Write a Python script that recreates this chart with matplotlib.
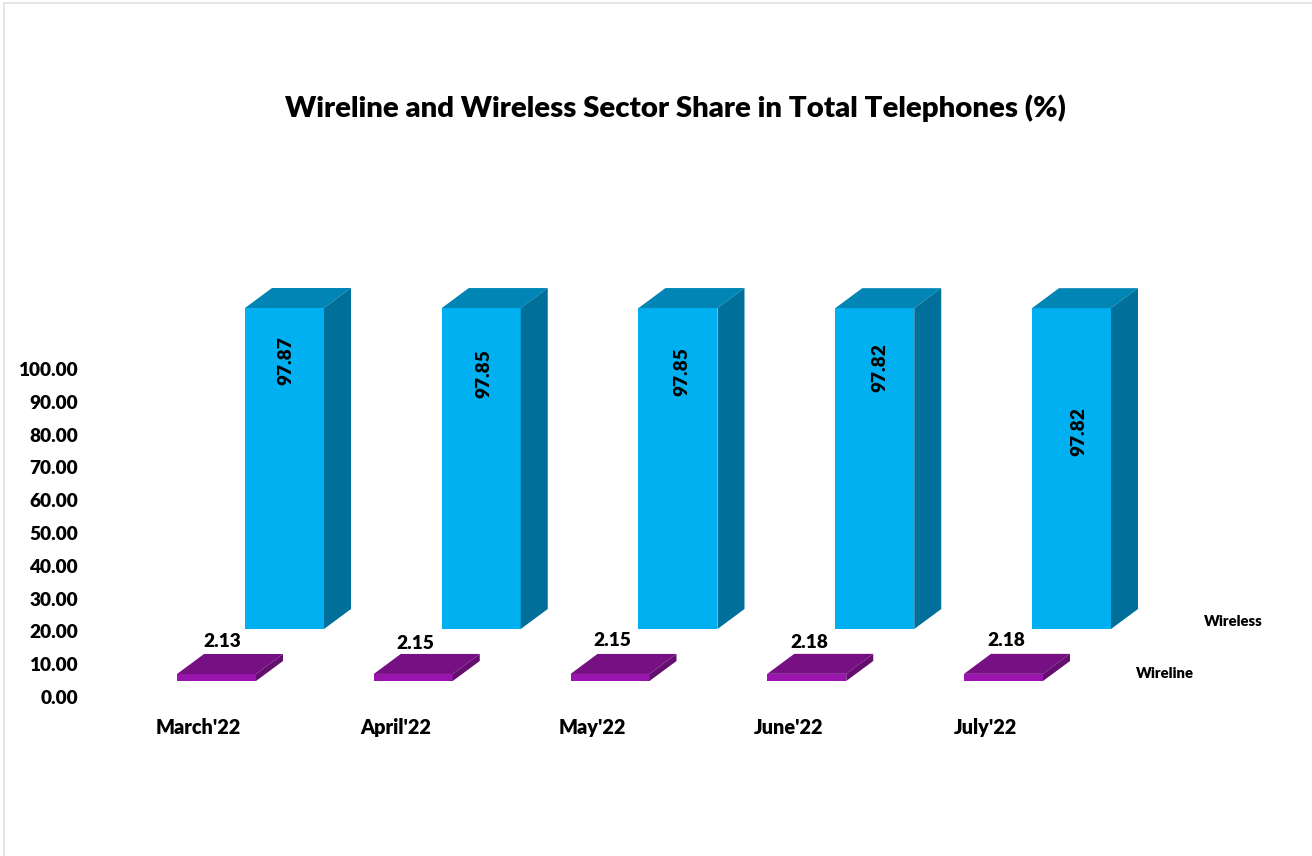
import matplotlib
matplotlib.use("Agg")
import matplotlib.pyplot as plt
from matplotlib.lines import Line2D
from matplotlib.patches import Polygon

# --- Data ---
months = ["March'22", "April'22", "May'22", "June'22", "July'22"]
wireline = [2.13, 2.15, 2.15, 2.18, 2.18]
wireless = [97.87, 97.85, 97.85, 97.82, 97.82]
y_ticks = [0, 10, 20, 30, 40, 50, 60, 70, 80, 90, 100]

# --- Layout (pixels on a 1312x856 canvas) ---
W, H = 1312, 856
px_per_unit = 3.28
px_per_cat = 196.75
zero_y = 697
first_cat_x = 198.5
ax_left, ax_bottom = 85, 712

bar_w = 79 / px_per_cat
depth_x = 27 / px_per_cat
depth_y = 20 / px_per_unit
wireline_x, wireline_floor = 18 / px_per_cat, 16 / px_per_unit
wireless_x, wireless_floor = 86 / px_per_cat, 68 / px_per_unit

# label placement, offset from the top centre of each bar front
wireless_label_dy = [-53, -66, -64, -59, -123]
wireless_label_dx = [1, 3, 4, 5, 7]
wireline_label_dx = [6, 2, 2, 3, 3]
wireline_label_dy = [33, 30, 33, 31, 33]

plt.rcParams["font.family"] = ["Lato", "DejaVu Sans"]
plt.rcParams["font.weight"] = 800

fig = plt.figure(figsize=(W / 100, H / 100), dpi=100)
ax = fig.add_axes([ax_left / W, (H - ax_bottom) / H, (W - ax_left) / W, ax_bottom / H])
ax.set_xlim((ax_left - first_cat_x) / px_per_cat, (W - first_cat_x) / px_per_cat)
ax.set_ylim((zero_y - ax_bottom) / px_per_unit, zero_y / px_per_unit)
for s in ax.spines.values():
    s.set_visible(False)


def bars_3d(xs, vals, floor, front, top, side):
    ax.bar(xs, vals, width=bar_w, bottom=floor, color=front, linewidth=0, zorder=3)
    for x, v in zip(xs, vals):
        l, r = x - bar_w / 2, x + bar_w / 2
        b, t = floor, floor + v
        ax.add_patch(Polygon([(l, t), (r, t), (r + depth_x, t + depth_y), (l + depth_x, t + depth_y)],
                             facecolor=top, linewidth=0, zorder=3))
        ax.add_patch(Polygon([(r, b), (r, t), (r + depth_x, t + depth_y), (r + depth_x, b + depth_y)],
                             facecolor=side, linewidth=0, zorder=3))


cats = range(len(months))
bars_3d([i + wireless_x for i in cats], wireless, wireless_floor, "#00B0F0", "#0085B5", "#006F9A")
bars_3d([i + wireline_x for i in cats], wireline, wireline_floor, "#9A14AE", "#761083", "#640E70")

for i in cats:
    ax.annotate(f"{wireless[i]:.2f}", (i + wireless_x, wireless_floor + wireless[i]),
                xytext=(wireless_label_dx[i], wireless_label_dy[i]), textcoords="offset pixels",
                rotation=90, ha="center", va="center", fontsize=13.7, color="black", zorder=5)
    ax.annotate(f"{wireline[i]:.2f}", (i + wireline_x, wireline_floor + wireline[i]),
                xytext=(wireline_label_dx[i], wireline_label_dy[i]), textcoords="offset pixels",
                ha="center", va="center", fontsize=13.7, color="black", zorder=5)

ax.set_yticks(y_ticks)
ax.set_yticklabels([f"{v:.2f}" for v in y_ticks], fontsize=13.7)
ax.set_xticks(list(cats))
ax.set_xticklabels(months, fontsize=14.3)
ax.tick_params(axis="both", length=0)
ax.tick_params(axis="y", pad=5)
ax.tick_params(axis="x", pad=4)

# series names, written beside the last bars like the 3D depth axis labels
fig.text(1233 / W, 1 - 621 / H, "Wireless", ha="center", va="center", fontsize=10.7)
fig.text(1165 / W, 1 - 673 / H, "Wireline", ha="center", va="center", fontsize=10.7)

fig.text(675 / W, 1 - 108 / H, "Wireline and Wireless Sector Share in Total Telephones (%)",
         ha="center", va="center", fontsize=21.15)

# thin grey frame on top and left
fig.add_artist(Line2D([3.5 / W, 3.5 / W], [0, 1 - 3 / H], color="#E2E2E2", linewidth=1.2))
fig.add_artist(Line2D([3.5 / W, 1], [1 - 3 / H, 1 - 3 / H], color="#E2E2E2", linewidth=1.2))

fig.savefig("out.png", dpi=100)
